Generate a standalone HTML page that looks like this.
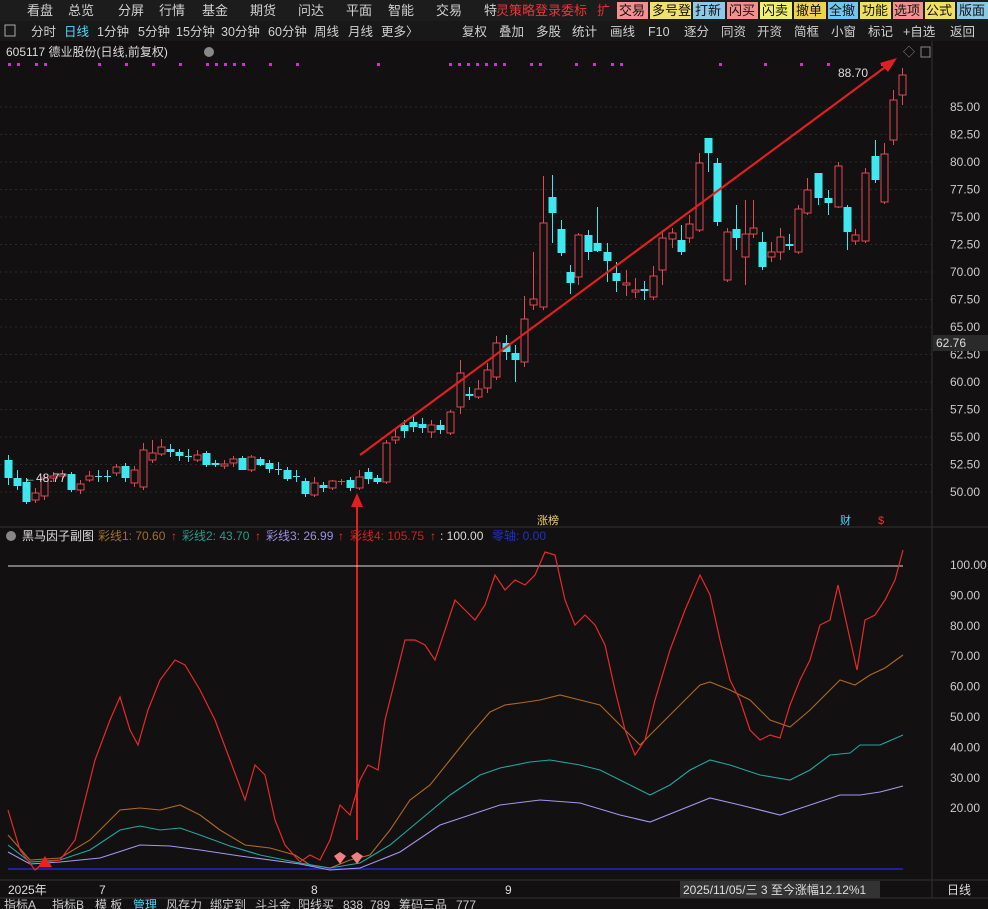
<!DOCTYPE html>
<html><head><meta charset="utf-8"><style>
body{margin:0;width:988px;height:909px;background:#111;overflow:hidden;font-family:"Liberation Sans","Noto Sans CJK SC",sans-serif;font-size:12px;color:#ccc}
svg{position:absolute;left:0;top:0}
</style></head><body>
<svg width="988" height="909" id="s" xmlns="http://www.w3.org/2000/svg" font-family="Liberation Sans, Noto Sans CJK SC, sans-serif" font-size="12">
<rect width="988" height="909" fill="#121011"/>
<rect width="988" height="21" fill="#1c1c1c"/>
<rect y="21" width="988" height="20" fill="#181818"/>
<g fill="#d0d0d0" font-size="13">
<text x="27" y="15">看盘</text><text x="68" y="15">总览</text><text x="118" y="15">分屏</text><text x="159" y="15">行情</text><text x="202" y="15">基金</text><text x="250" y="15">期货</text><text x="298" y="15">问达</text><text x="346" y="15">平面</text><text x="388" y="15">智能</text><text x="436" y="15">交易</text><text x="484" y="15">特</text>
</g>
<text x="496" y="15" fill="#e33" font-size="13">灵策略登录委标</text><text x="597" y="15" fill="#d33" font-size="13">扩</text>
<g font-size="13" fill="#111">
<rect x="617" y="2" width="31" height="17" fill="#f28f8f"/><text x="619" y="15">交易</text>
<rect x="650" y="2" width="41" height="17" fill="#f0e070"/><text x="652" y="15">多号登</text>
<rect x="693" y="2" width="32" height="17" fill="#8cc8e8"/><text x="695" y="15">打新</text>
<rect x="727" y="2" width="31" height="17" fill="#f28f8f"/><text x="729" y="15">闪买</text>
<rect x="760" y="2" width="32" height="17" fill="#f0f070"/><text x="762" y="15">闪卖</text>
<rect x="794" y="2" width="32" height="17" fill="#f0d050"/><text x="796" y="15">撤单</text>
<rect x="828" y="2" width="30" height="17" fill="#70c8f0"/><text x="829" y="15">全撤</text>
<rect x="860" y="2" width="31" height="17" fill="#f0e060"/><text x="862" y="15">功能</text>
<rect x="893" y="2" width="30" height="17" fill="#f28f8f"/><text x="894" y="15">选项</text>
<rect x="925" y="2" width="30" height="17" fill="#f0e060"/><text x="926" y="15">公式</text>
<rect x="957" y="2" width="31" height="17" fill="#8cc8e8"/><text x="959" y="15">版面</text>
</g>
<g fill="#d0d0d0" font-size="12.5">
<rect x="5" y="25" width="10" height="11" fill="none" stroke="#aaa"/>
<text x="31" y="36">分时</text><text x="64" y="36" fill="#4fd8ff">日线</text><text x="97" y="36">1分钟</text><text x="138" y="36">5分钟</text><text x="176" y="36">15分钟</text><text x="221" y="36">30分钟</text><text x="268" y="36">60分钟</text><text x="314" y="36">周线</text><text x="348" y="36">月线</text><text x="381" y="36">更多〉</text>
<text x="462" y="36">复权</text><text x="499" y="36">叠加</text><text x="536" y="36">多股</text><text x="572" y="36">统计</text><text x="610" y="36">画线</text><text x="648" y="36">F10</text><text x="684" y="36">逐分</text><text x="721" y="36">同资</text><text x="757" y="36">开资</text><text x="794" y="36">简框</text><text x="831" y="36">小窗</text><text x="868" y="36">标记</text><text x="903" y="36">+自选</text><text x="950" y="36">返回</text>
</g>
<text x="6" y="56" fill="#ddd">605117 德业股份(日线,前复权)</text><circle cx="209" cy="52" r="5" fill="#888"/>
<text x="903" y="56" fill="#888">◇</text><rect x="921" y="47" width="9" height="10" fill="none" stroke="#888"/>
<line x1="932" y1="41" x2="932" y2="898" stroke="#333"/>
<line x1="0" y1="527" x2="988" y2="527" stroke="#333"/>
<line x1="0" y1="880" x2="988" y2="880" stroke="#333"/>
<line x1="0" y1="898" x2="988" y2="898" stroke="#333"/>
<g id="grid"></g>
<g id="candles"></g>
<g fill="#cccccc" font-size="12" id="axis"></g>
<rect x="933" y="335" width="55" height="16" fill="#2a2a2a"/><text x="936" y="347" fill="#ddd">62.76</text>
<text x="838" y="77" fill="#ddd">88.70</text>
<text x="24" y="482" fill="#ddd">←48.77</text>
<line x1="360" y1="455" x2="888" y2="65" stroke="#e02020" stroke-width="2.2"/>
<polygon points="897,58 880,63 888,72" fill="#e02020"/>
<line x1="357" y1="840" x2="357" y2="505" stroke="#e02020" stroke-width="2"/>
<polygon points="357,493 351,507 363,507" fill="#e02020"/>
<text x="537" y="524" fill="#f0d070" font-size="11">涨榜</text><text x="840" y="524" fill="#4fd8ff" font-size="11">财</text><text x="878" y="524" fill="#e33" font-size="11">$</text>
<circle cx="11" cy="536" r="5" fill="#888"/>
<text x="22" y="540" fill="#ddd">黑马因子副图</text>
<text x="98" y="540" fill="#a0702a">彩线1: 70.60</text><text x="171" y="540" fill="#e33">↑</text>
<text x="182" y="540" fill="#2a9a8a">彩线2: 43.70</text><text x="255" y="540" fill="#e33">↑</text>
<text x="266" y="540" fill="#9a90e0">彩线3: 26.99</text><text x="338" y="540" fill="#e33">↑</text>
<text x="350" y="540" fill="#d02020">彩线4: 105.75</text><text x="430" y="540" fill="#e33">↑</text>
<text x="440" y="540" fill="#ddd">: 100.00</text><text x="492" y="540" fill="#2030d0">零轴: 0.00</text>
<line x1="8" y1="566" x2="903" y2="566" stroke="#ddd"/>
<line x1="8" y1="869" x2="903" y2="869" stroke="#2222dd" stroke-width="1.5"/>
<g fill="none" stroke-width="1.1" id="lines"></g>
<polygon points="45,856 38,867 52,867" fill="#f02020"/>
<path d="M334,856 l6,-4 6,4 -6,8z M351,856 l6,-4 6,4 -6,8z" fill="#f08080"/>
<g font-size="12" fill="#ddd">
<text x="8" y="894">2025年</text><text x="99" y="894">7</text><text x="311" y="894">8</text><text x="505" y="894">9</text>
<rect x="680" y="881" width="200" height="17" fill="#333"/><text x="683" y="894">2025/11/05/三 3 至今涨幅12.12%1</text>
<text x="947" y="894">日线</text>
</g>
<g font-size="12" fill="#ccc">
<text x="4" y="909">指标A</text><text x="52" y="909">指标B</text><text x="95" y="909">模 板</text><text x="133" y="909" fill="#4fd8ff">管理</text><text x="166" y="909">风存力</text><text x="210" y="909">绑定到</text><text x="255" y="909">斗斗金</text><text x="298" y="909">阳线买</text><text x="343" y="909">838</text><text x="370" y="909">789</text><text x="399" y="909">筹码三品</text><text x="456" y="909">777</text>
</g>
</svg>
<script>
const NS="http://www.w3.org/2000/svg";
function el(p,t,a){const e=document.createElementNS(NS,t);for(const k in a)e.setAttribute(k,a[k]);document.getElementById(p).appendChild(e);return e}
// price axis
for(let v=50;v<=85;v+=2.5){const y=492-(v-50)*11;el('grid','line',{x1:0,x2:932,y1:y,y2:y,stroke:'#2a2a2a','stroke-dasharray':'2,3'});const t=el('axis','text',{x:950,y:y+4});t.textContent=v.toFixed(2)}
for(let v=20;v<=100;v+=10){const y=869-v*3.04;const t=el('axis','text',{x:950,y:y+4});t.textContent=v.toFixed(2)}
// magenta dots
[8,17,35,44,98,125,152,179,206,215,224,233,242,269,296,377,449,458,467,476,485,494,503,530,539,575,593,611,620,719,764,800,827,881].forEach(x=>el('grid','rect',{x:x,y:63,width:3,height:3,fill:'#d030d0'}));
// candles: x,top,bottom,up(1=red hollow,0=cyan),hi,lo
const C=[[8,460,478,0,455,485],[17,478,486,0,470,490],[26,482,502,0,478,504],[35,493,500,1,488,503],[44,478,496,1,474,500],[53,476,478,1,472,482],[62,474,476,1,470,480],[71,474,490,0,472,492],[80,484,490,1,480,494],[89,476,480,1,471,482],[98,476,477,0,470,482],[107,476,477,0,470,482],[116,467,473,1,464,476],[125,466,478,0,463,482],[134,470,483,1,466,487],[143,450,487,1,443,490],[152,453,460,1,440,463],[161,447,454,1,439,456],[170,449,452,0,444,457],[179,452,456,0,449,461],[188,456,457,0,449,462],[197,455,460,1,450,462],[206,453,465,0,451,467],[215,463,465,0,460,467],[224,464,466,1,460,469],[233,459,463,1,456,467],[242,458,470,0,456,470],[251,457,470,1,455,472],[260,459,465,0,457,466],[269,463,469,0,460,473],[278,469,470,0,462,475],[287,470,479,0,467,481],[296,476,477,0,470,482],[305,481,494,0,478,497],[314,483,495,1,477,497],[323,485,488,0,482,492],[332,481,488,1,480,490],[341,481,482,1,479,485],[350,480,488,0,477,491],[359,477,488,1,470,490],[368,472,479,0,468,484],[377,478,482,0,475,484],[386,443,482,1,440,484],[395,437,440,1,430,444],[404,425,431,0,420,438],[413,422,427,0,416,432],[422,424,428,0,418,433],[431,425,432,1,420,438],[440,425,430,0,420,434],[450,412,433,1,410,435],[460,373,407,1,360,414],[469,394,396,0,387,400],[478,389,397,1,380,399],[487,370,388,1,363,393],[496,343,377,1,336,380],[506,343,352,0,335,360],[515,353,360,0,345,382],[524,319,362,1,296,367],[533,299,305,1,252,310],[543,223,307,1,176,310],[552,197,213,0,175,243],[561,229,253,0,220,256],[570,272,283,0,265,294],[578,235,277,1,233,285],[588,235,252,0,230,260],[597,243,251,0,207,252],[607,252,261,0,243,282],[616,273,281,0,262,292],[626,283,285,1,270,296],[635,290,292,1,278,298],[644,289,291,0,281,300],[653,276,297,1,266,300],[662,238,270,1,230,285],[672,233,239,1,228,248],[681,240,252,0,225,255],[689,224,238,1,215,243],[699,163,230,1,153,232],[708,138,153,0,138,172],[717,163,222,0,158,226],[727,232,280,1,228,282],[736,229,238,0,205,250],[745,234,257,1,200,285],[753,228,234,1,200,238],[762,242,267,0,232,270],[771,252,257,1,242,262],[780,237,252,1,228,260],[789,244,246,0,234,250],[798,209,252,1,205,254],[807,190,213,1,178,215],[818,173,198,0,173,205],[828,198,203,0,190,215],[838,166,207,1,162,208],[847,207,232,0,205,250],[855,235,241,1,229,245],[865,173,241,1,168,243],[875,156,180,0,140,183],[884,154,202,1,143,204],[893,100,140,1,90,145],[902,75,95,1,68,105]];
C.forEach(c=>{const[x,t,b,u,h,l]=c;const col=u?'#e04a55':'#3ee8ee';el('candles','line',{x1:x+0.5,x2:x+0.5,y1:h,y2:l,stroke:col});
 if(b-t<2){el('candles','line',{x1:x-3,x2:x+4,y1:t+0.5,y2:t+0.5,stroke:col})}
 else if(u)el('candles','rect',{x:x-3,y:t,width:7,height:b-t,fill:'#121011',stroke:col});
 else el('candles','rect',{x:x-3.5,y:t,width:8,height:b-t,fill:col});});
function pl(pts,col,w){el('lines','polyline',{points:pts.map(p=>p.join(',')).join(' '),stroke:col,'stroke-width':w||1.1,fill:'none'})}
pl([[8,835],[30,860],[60,858],[90,840],[120,810],[140,808],[160,810],[180,805],[200,815],[220,830],[245,845],[270,848],[295,855],[310,865],[330,868],[350,860],[370,855],[390,830],[410,800],[430,785],[450,760],[470,735],[490,712],[505,705],[520,703],[540,700],[560,695],[580,700],[600,705],[620,725],[640,745],[660,725],[680,705],[700,685],[710,682],[730,690],[750,700],[770,720],[790,727],[810,710],[830,690],[840,680],[855,685],[870,675],[885,668],[903,655]],'#b06a20');
pl([[8,845],[30,862],[60,860],[90,850],[120,830],[140,826],[160,830],[180,828],[200,835],[230,846],[260,855],[300,863],[330,868],[360,863],[390,845],[420,820],[450,795],[480,775],[500,768],[530,762],[550,760],[580,765],[600,770],[620,780],[650,795],[670,785],[690,770],[710,760],[730,765],[760,775],[790,780],[810,770],[830,755],[850,753],[860,745],[880,745],[903,735]],'#1fa8a0');
pl([[8,852],[30,864],[60,862],[100,858],[140,845],[170,846],[200,850],[240,856],[300,864],[330,870],[360,868],[400,852],[440,825],[470,815],[500,805],[540,800],[580,803],[620,815],[650,822],[680,810],[710,798],[740,805],[780,815],[810,805],[840,795],[860,795],[880,792],[903,786]],'#a098f0');
pl([[8,810],[20,850],[35,870],[45,862],[60,860],[75,840],[85,800],[95,760],[110,720],[120,697],[130,730],[138,745],[148,710],[160,680],[175,660],[185,665],[200,690],[215,720],[230,760],[245,800],[255,765],[265,775],[275,820],[285,845],[300,862],[310,855],[320,860],[330,840],[340,805],[350,815],[360,780],[368,765],[378,770],[385,720],[395,680],[405,640],[415,640],[425,645],[435,660],[445,630],[455,600],[465,610],[475,620],[485,605],[495,575],[505,590],[515,580],[525,585],[535,575],[545,552],[555,555],[565,600],[575,625],[585,615],[595,625],[605,645],[615,690],[625,730],[635,755],[645,740],[655,700],[670,650],[685,610],[700,575],[710,595],[720,640],[730,680],[740,700],[750,730],[760,740],[770,735],[780,738],[790,705],[800,680],[810,660],[820,625],[830,620],[838,585],[848,630],[857,670],[865,620],[875,615],[885,600],[895,580],[903,550]],'#e82a2a',1.2);
</script>
</body></html>
